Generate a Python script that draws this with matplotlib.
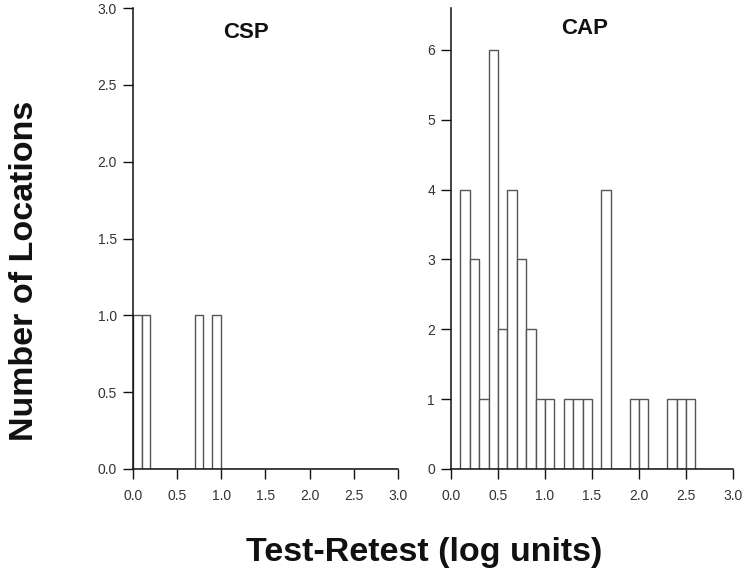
import numpy as np
import matplotlib
matplotlib.use("Agg")
import matplotlib.pyplot as plt

plt.rcParams['font.family'] = ['Liberation Sans', 'DejaVu Sans']

# Histogram data (bin width 0.1 log units)
bin_width = 0.1
csp_bin_starts = [round(i * 0.1, 1) for i in range(30)]
csp_counts = [1, 1, 0, 0, 0, 0, 0, 1, 0, 1,
              0, 0, 0, 0, 0, 0, 0, 0, 0, 0,
              0, 0, 0, 0, 0, 0, 0, 0, 0, 0]

cap_bin_starts = [round(i * 0.1, 1) for i in range(27)]
cap_counts = [0, 4, 3, 1, 6, 2, 4, 3, 2, 1,
              1, 0, 1, 1, 1, 0, 4, 0, 0, 1,
              1, 0, 0, 1, 1, 1, 0]

x_ticks = [0.0, 0.5, 1.0, 1.5, 2.0, 2.5, 3.0]
x_ticklabels = ["0.0", "0.5", "1.0", "1.5", "2.0", "2.5", "3.0"]
csp_yticks = [0.0, 0.5, 1.0, 1.5, 2.0, 2.5, 3.0]
csp_yticklabels = ["0.0", "0.5", "1.0", "1.5", "2.0", "2.5", "3.0"]
cap_yticks = [0, 1, 2, 3, 4, 5, 6]
cap_yticklabels = ["0", "1", "2", "3", "4", "5", "6"]

fig = plt.figure(figsize=(7.43, 5.76), dpi=100)
W, H = 743, 576

def make_ax(left_px, right_px, top_px, bottom_px):
    return fig.add_axes([left_px / W, 1 - bottom_px / H,
                         (right_px - left_px) / W, (bottom_px - top_px) / H])

ax1 = make_ax(132.7, 398, 8, 469)
ax2 = make_ax(451, 733, 8, 469)

bar_edge = '#555555'
tick_color = '#333333'

for ax, starts, counts, yt, ytl, ymax, title, tx, ty in [
    (ax1, csp_bin_starts, csp_counts, csp_yticks, csp_yticklabels, 3.0, "CSP", 0.427, 0.946),
    (ax2, cap_bin_starts, cap_counts, cap_yticks, cap_yticklabels, 6.6, "CAP", 0.475, 0.955),
]:
    ax.bar(starts, counts, width=bin_width, align='edge', color='white',
           edgecolor=bar_edge, linewidth=1.0, zorder=2)
    ax.set_xlim(0, 3.0)
    ax.set_ylim(0, ymax)
    ax.set_xticks(x_ticks)
    ax.set_xticklabels(x_ticklabels)
    ax.set_yticks(yt)
    ax.set_yticklabels(ytl)
    for s in ['top', 'right']:
        ax.spines[s].set_visible(False)
    for s in ['left', 'bottom']:
        ax.spines[s].set_linewidth(1.1)
        ax.spines[s].set_color('#111111')
        ax.spines[s].set_zorder(3)
    ax.tick_params(axis='both', direction='out', length=7.5, width=1.0,
                   color='#111111', labelsize=10, labelcolor=tick_color)
    ax.tick_params(axis='x', pad=7)
    ax.tick_params(axis='y', pad=4)
    ax.text(tx, ty, title, transform=ax.transAxes, ha='center', va='center',
            fontsize=16, fontweight='bold', color='#111111')

fig.text(25 / W, 1 - 271 / H, "Number of Locations", rotation=90,
         ha='center', va='center', fontsize=24.5, fontweight='bold', color='#111111')
fig.text(424 / W, 1 - 552 / H, "Test-Retest (log units)",
         ha='center', va='center', fontsize=24.5, fontweight='bold', color='#111111')

fig.savefig("out.png", dpi=100)
